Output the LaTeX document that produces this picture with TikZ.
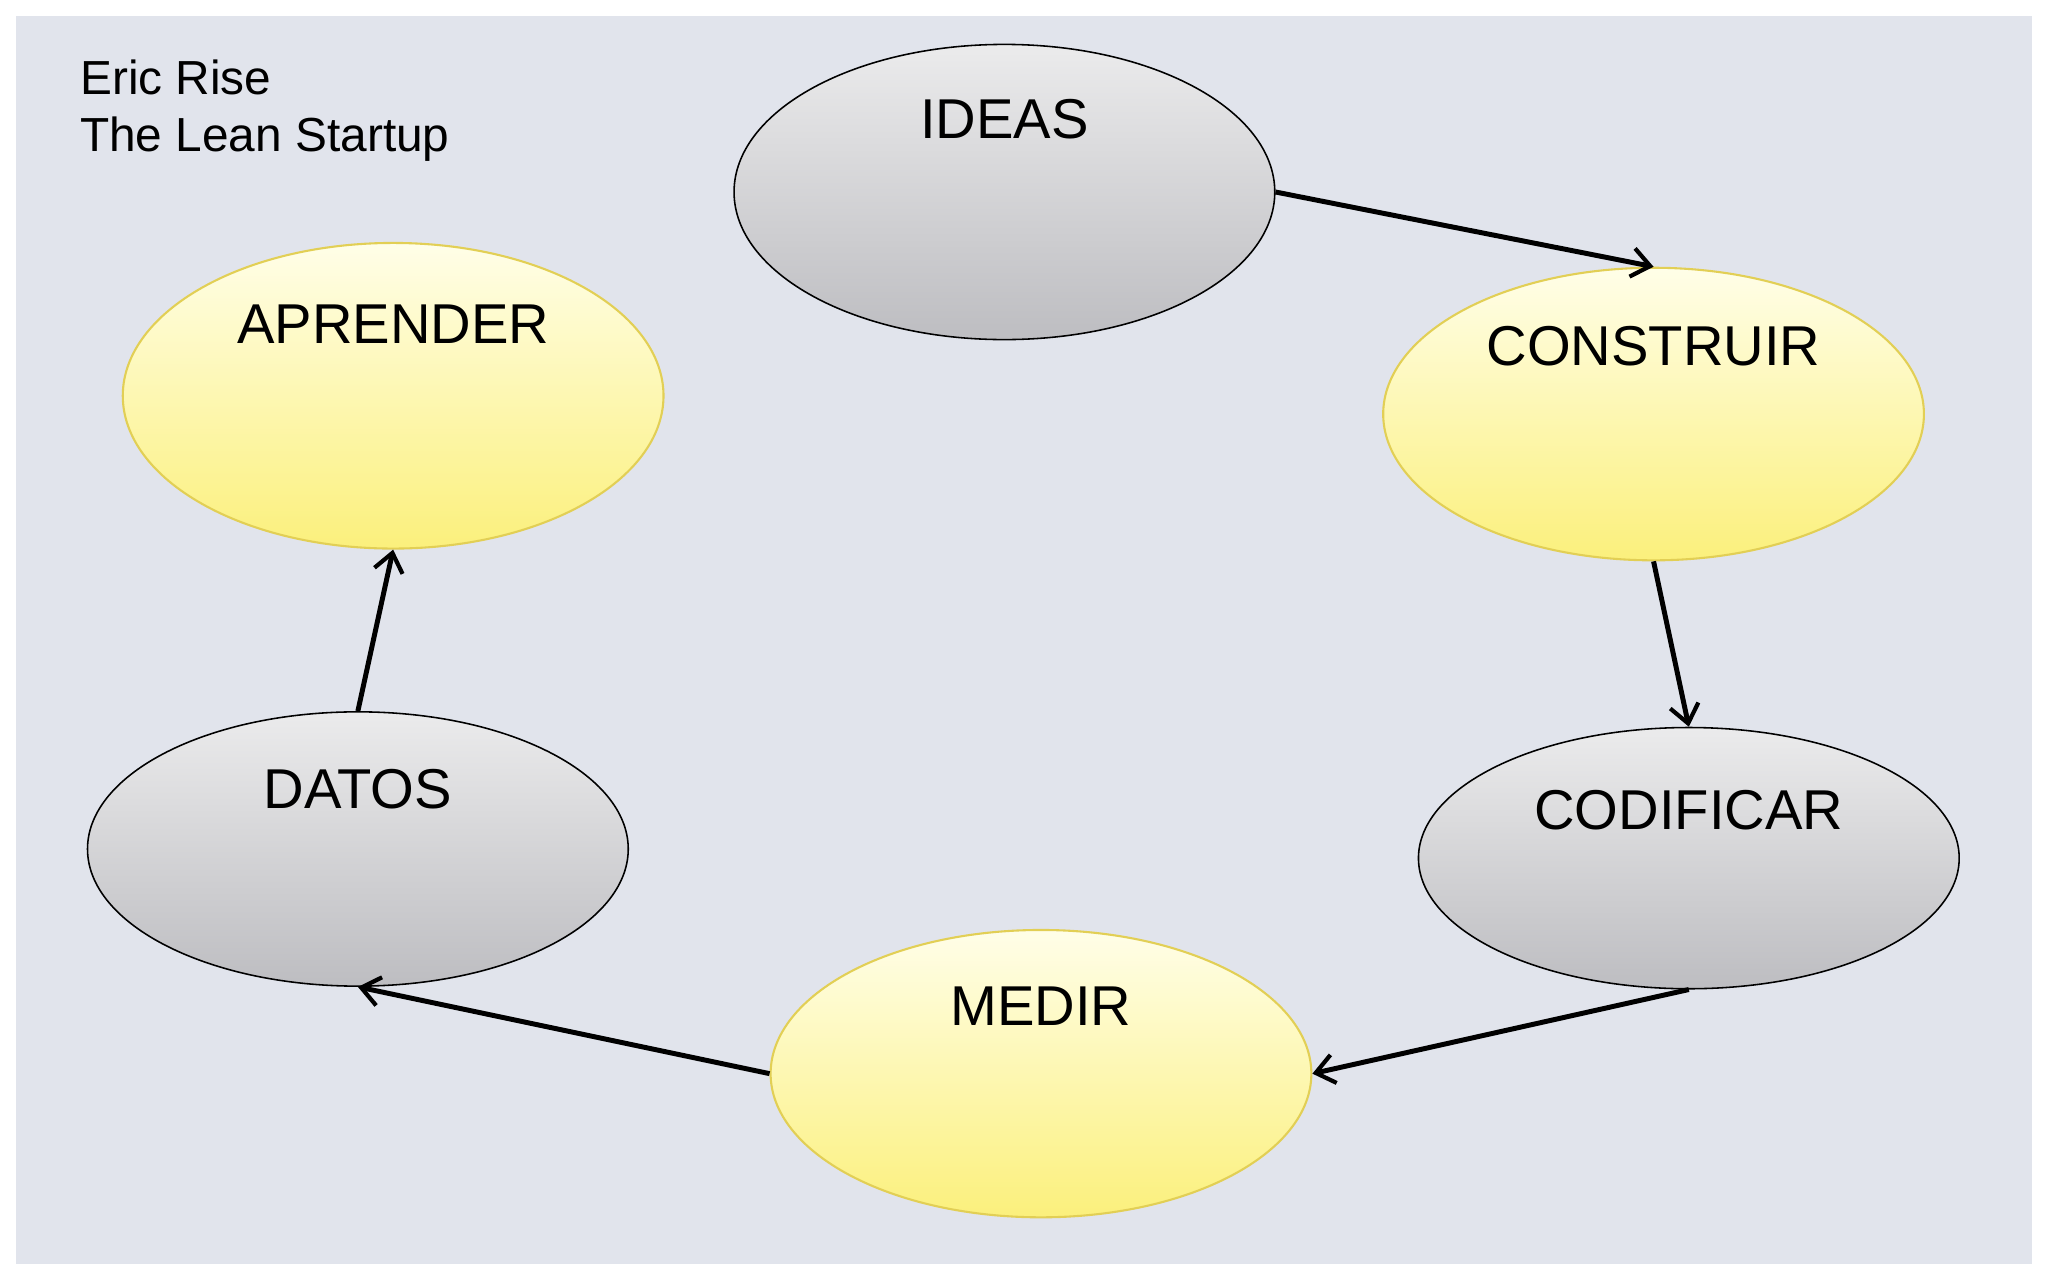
\documentclass[tikz,border=0pt]{standalone}
\usepackage{fontspec}
\setmainfont{Liberation Sans}
\usetikzlibrary{shapes.geometric,arrows.meta}
\definecolor{bg}{HTML}{E1E4EC}
\definecolor{gtop}{HTML}{EBEBEC}
\definecolor{gbot}{HTML}{BDBDC1}
\definecolor{ytop}{HTML}{FFFEE8}
\definecolor{ybot}{HTML}{FBF07C}
\definecolor{yline}{HTML}{E2CF55}
\begin{document}
\begin{tikzpicture}[x=0.5pt,y=-0.5pt,
  ell/.style={ellipse,inner sep=0pt,minimum width=207pt,minimum height=#1},
  grey/.style={ell=#1,draw=black,line width=0.6pt,top color=gtop,bottom color=gbot},
  yel/.style={ell=#1,draw=yline,line width=0.8pt,top color=ytop,bottom color=ybot},
  lab/.style={font=\fontsize{21.5}{26}\selectfont,inner sep=0pt,anchor=base},
  arr/.style={-{Straight Barb[length=7pt,width=11pt,line width=1.6pt]},line width=1.9pt}]
\useasboundingbox (0,0) rectangle (1568,980);
\fill[white] (0,0) rectangle (1568,980);
\fill[bg] (12,12) rectangle (1556,968);
\node[font=\fontsize{18.3}{22}\selectfont,anchor=base west,inner sep=0pt] (t1) at (61,72) {Eric Rise};
\node[font=\fontsize{18.3}{22}\selectfont,anchor=base west,inner sep=0pt] (t2) at (61,116) {The Lean Startup};
\node[grey=113pt] (ideas) at (769,147) {};
\node[yel=112pt] (construir) at (1266,317) {};
\node[grey=100pt] (codificar) at (1293,657) {};
\node[yel=110pt] (medir) at (797,822) {};
\node[grey=105pt] (datos) at (274,650) {};
\node[yel=117pt] (aprender) at (301,303) {};
\node[lab] (ideasT) at (769,106) {IDEAS};
\node[lab] (construirT) at (1266,280) {CONSTRUIR};
\node[lab] (codificarT) at (1293,635) {CODIFICAR};
\node[lab] (medirT) at (797,785) {MEDIR};
\node[lab] (datosT) at (274,619) {DATOS};
\node[lab] (aprenderT) at (301,263) {APRENDER};
\draw[arr] (ideas.east) -- (construir.north);
\draw[arr] (construir.south) -- (codificar.north);
\draw[arr] (codificar.south) -- (medir.east);
\draw[arr] (medir.west) -- (datos.south);
\draw[arr] (datos.north) -- (aprender.south);
\end{tikzpicture}
\end{document}
